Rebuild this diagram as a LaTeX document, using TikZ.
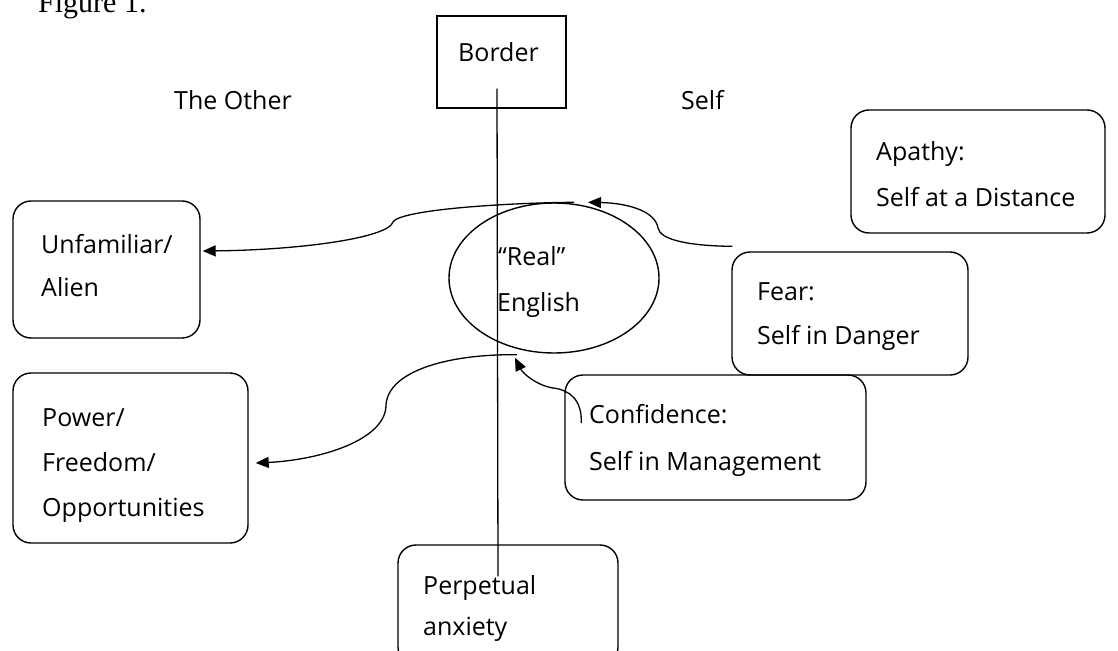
\documentclass[tikz,border=0pt]{standalone}
\usepackage{fontspec}
\setmainfont{Open Sans}
\newfontfamily\figfont{Liberation Serif}
\usetikzlibrary{shapes.geometric,arrows.meta}
\begin{document}
\begin{tikzpicture}[x=1pt,y=-1pt,
  box/.style={draw,line width=1.4pt,rounded corners=18pt,inner sep=0pt},
  txt/.style={anchor=base west,inner sep=0pt,font=\fontsize{25}{30}\selectfont},
  con/.style={line width=1.3pt,-{Triangle[length=13pt,width=11pt]}},
  plain/.style={line width=1.3pt}]
\useasboundingbox (0,0) rectangle (1118,650);
\fill[white] (0,0) rectangle (1118,650);
\clip (0,0) rectangle (1118,650);

% caption
\node[anchor=base west,inner sep=0pt,font=\figfont\fontsize{30}{36}\selectfont] (fig) at (38,13) {Figure 1.};

% boxes
\node[draw,line width=1.4pt,inner sep=0pt,minimum width=129pt,minimum height=92pt] (border) at (501.5,62) {};
\node[box,minimum width=254pt,minimum height=123pt] (apathy) at (978,171.5) {};
\node[box,minimum width=187pt,minimum height=137pt] (unfam) at (106.5,269.5) {};
\node[box,minimum width=235pt,minimum height=170pt] (power) at (130.5,458) {};
\node[box,minimum width=236pt,minimum height=123pt] (fear) at (850,313.5) {};
\node[box,minimum width=301pt,minimum height=125pt] (conf) at (715.5,437.5) {};
\node[box,minimum width=220pt,minimum height=120pt] (perp) at (508,605) {};
\node[draw,ellipse,line width=1.4pt,inner sep=0pt,minimum width=210pt,minimum height=150pt] (real) at (554,278) {};

% texts
\node[txt] (tborder) at (458,62) {Border};
\node[txt] (tother) at (174,110) {The Other};
\node[txt] (tself) at (681,110) {Self};
\node[txt] (ta1) at (876,160) {Apathy:};
\node[txt] (ta2) at (876,206) {Self at a Distance};
\node[txt] (tu1) at (41,253) {Unfamiliar/};
\node[txt] (tu2) at (41,296) {Alien};
\node[txt] (tp1) at (42,426) {Power/};
\node[txt] (tp2) at (42,471) {Freedom/};
\node[txt] (tp3) at (42,516) {Opportunities};
\node[txt] (tf1) at (757,300) {Fear:};
\node[txt] (tf2) at (757,344) {Self in Danger};
\node[txt] (tc1) at (589,423) {Confidence:};
\node[txt] (tc2) at (589,470) {Self in Management};
\node[txt] (tr1) at (498,265) {“Real”};
\node[txt] (tr2) at (497,311) {English};
\node[txt] (tpa1) at (423,594) {Perpetual};
\node[txt] (tpa2) at (423,635) {anxiety};

% border line
\coordinate (btop) at ([shift={(-4.5,-20)}]border.south);
\coordinate (bbot) at ([shift={(-10,32)}]perp.north);
\draw[plain] (btop) -- (bbot);

% connectors
\draw[con] ([shift={(1,-5)}]fear.north west)
  .. controls (690,246) and (660,240) .. (658,228)
  .. controls (655,210) and (625,203) .. ([xshift=34pt]real.north);
\draw[con] ([xshift=20pt]real.north)
  .. controls (500,203) and (400,210) .. (393,222)
  .. controls (388,238) and (300,250) .. ([shift={(2,-18.5)}]unfam.east);
\draw[con] ([shift={(17,-14.5)}]conf.west)
  .. controls (582,400) and (570,390) .. (553,388)
  .. controls (535,385) and (522,372) .. ([shift={(-39,4)}]real.south);
\draw[con] ([shift={(-37,1)}]real.south)
  .. controls (445,354) and (388,372) .. (386,405)
  .. controls (386,440) and (320,460) .. ([shift={(7,5)}]power.east);
\end{tikzpicture}
\end{document}
